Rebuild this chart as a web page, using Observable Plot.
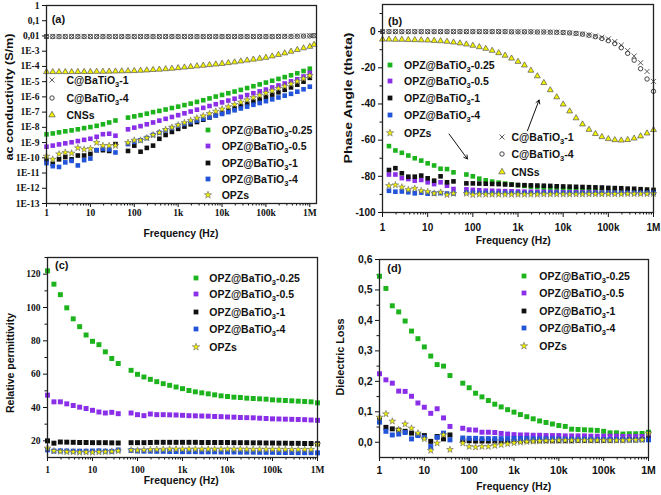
<!DOCTYPE html>
<html><head><meta charset="utf-8"><title>Dielectric properties</title>
<script src="https://cdn.jsdelivr.net/npm/d3@7"></script>
<script src="https://cdn.jsdelivr.net/npm/@observablehq/plot@0.6"></script>
<style>
html,body{margin:0;padding:0;background:#fff;}
#wrap{position:relative;width:661px;height:495px;overflow:hidden;background:#fff;}
#wrap svg.panel{position:absolute;}
.t{position:absolute;white-space:nowrap;font-family:"Liberation Sans",Arial,sans-serif;font-weight:bold;color:#111;line-height:1;}
.leg{font-size:10.5px;line-height:14px;height:14px;}
.leg sub{font-size:7.5px;vertical-align:-2.5px;line-height:0;}
.sym{position:absolute;width:12px;height:12px;}
.sym svg{display:block;}
</style></head><body><div id="wrap"></div>
<script>
// ---------- DATA ----------
const freqGap = [1,1.39,1.93,2.68,3.73,5.18,7.2,10,13.9,19.3,26.8,37.3,
  72,100,139,193,268,373,518,720,
  1000,1390,1930,2680,3730,5180,7200,
  1e4,13900,19300,26800,37300,51800,72000,
  1e5,139000,193000,268000,373000,518000,720000,1e6];
const freqFull = [1,1.39,1.93,2.68,3.73,5.18,7.2,10,13.9,19.3,26.8,37.3,51.8,
  72,100,139,193,268,373,518,720,
  1000,1390,1930,2680,3730,5180,7200,
  1e4,13900,19300,26800,37300,51800,72000,
  1e5,139000,193000,268000,373000,518000,720000,1e6];
const freqA = [1,1.39,1.93,2.68,3.73,5.18,7.2,10,13.9,19.3,26.8,37.3,51.8,
  72,100,139,193,268,373,518,720,
  1000,1390,1930,2680,3730,5180,7200,
  1e4,13900,19300,26800,37300,51800,72000,
  1e5,139000,193000,268000,373000,518000,720000,1e6,1.25e6];

const xTickValues = [1,10,100,1e3,1e4,1e5,1e6];
const xTickLabels = ["1","10","100","1k","10k","100k","1M"];
const aTickValues = [1,0.1,0.01,1e-3,1e-4,1e-5,1e-6,1e-7,1e-8,1e-9,1e-10,1e-11,1e-12,1e-13];
const aTickLabels = ["1","0,1","0,01","1E-3","1E-4","1E-5","1E-6","1E-7","1E-8","1E-9","1E-10","1E-11","1E-12","1E-13"];
const bTickValues = [0,-20,-40,-60,-80,-100];
const cTickValues = [20,40,60,80,100,120];
const dTickValues = [0,0.1,0.2,0.3,0.4,0.5,0.6];
const dTickLabels = ["0,0","0,1","0,2","0,3","0,4","0,5","0,6"];

const opzNames = ["OPZ@BaTiO3-0.25","OPZ@BaTiO3-0.5","OPZ@BaTiO3-1","OPZ@BaTiO3-4","OPZs"];
const cNames = ["C@BaTiO3-1","C@BaTiO3-4","CNSs"];

// (a) ac conductivity, log10(S/m)
const aG = [-8.46,-8.40,-8.33,-8.26,-8.20,-8.13,-8.05,-7.98,-7.90,-7.80,-7.68,-7.55,
  -7.36,-7.28,-7.20,-7.10,-7.00,-6.92,-6.83,-6.73,
  -6.64,-6.54,-6.44,-6.33,-6.22,-6.10,-5.98,
  -5.87,-5.76,-5.65,-5.54,-5.42,-5.30,-5.18,
  -5.06,-4.94,-4.82,-4.70,-4.58,-4.45,-4.30,-4.15];
const aP = [-9.27,-9.20,-9.12,-9.05,-8.98,-8.90,-8.82,-8.75,-8.62,-8.45,-8.42,-8.55,
  -8.13,-8.02,-7.92,-7.80,-7.68,-7.56,-7.44,-7.32,
  -7.20,-7.08,-6.96,-6.84,-6.72,-6.60,-6.48,
  -6.36,-6.24,-6.12,-6.00,-5.88,-5.76,-5.64,
  -5.52,-5.38,-5.25,-5.12,-4.98,-4.84,-4.66,-4.42];
const aK = [-10.15,-10.40,-10.10,-9.95,-10.10,-9.85,-9.85,-9.75,-9.50,-9.50,-9.55,-9.10,
  -9.55,-9.20,-9.60,-9.35,-9.20,-8.75,-8.50,-8.30,
  -8.10,-7.95,-7.80,-7.65,-7.50,-7.35,-7.20,
  -7.05,-6.90,-6.75,-6.60,-6.45,-6.30,-6.15,
  -6.00,-5.85,-5.70,-5.54,-5.38,-5.20,-5.00,-4.75];
const aB = [-10.35,-10.55,-10.60,-10.30,-10.20,-10.50,-10.15,-10.05,-9.50,-9.40,-9.45,-9.65,
  -9.10,-8.95,-8.85,-8.70,-8.50,-8.35,-8.20,-8.05,
  -7.90,-7.78,-7.66,-7.55,-7.44,-7.33,-7.22,
  -7.12,-7.00,-6.88,-6.76,-6.64,-6.52,-6.40,
  -6.28,-6.16,-6.04,-5.92,-5.80,-5.66,-5.50,-5.33];
const aS = [-9.90,-10.10,-9.75,-9.65,-9.70,-9.35,-9.45,-9.40,-9.00,-9.20,-9.20,-9.20,
  -9.00,-8.85,-8.85,-8.70,-8.50,-8.35,-8.15,-8.00,
  -7.85,-7.70,-7.55,-7.40,-7.25,-7.10,-6.95,
  -6.80,-6.65,-6.50,-6.35,-6.20,-6.05,-5.90,
  -5.75,-5.60,-5.45,-5.30,-5.15,-4.98,-4.80,-4.60];
const aC1 = [-2.03,-2.03,-2.03,-2.03,-2.03,-2.03,-2.03,-2.03,-2.03,-2.03,
  -2.03,-2.03,-2.03,-2.03,-2.03,-2.03,-2.03,-2.03,-2.03,-2.03,
  -2.03,-2.03,-2.03,-2.03,-2.03,-2.03,-2.03,-2.03,-2.03,-2.03,
  -2.03,-2.03,-2.03,-2.03,-2.03,-2.03,-2.03,-2.03,-2.02,-2.02,
  -2.01,-2.00,-1.99,-1.97];
const aC4 = [-2.04,-2.04,-2.04,-2.04,-2.04,-2.04,-2.04,-2.04,-2.04,-2.04,
  -2.04,-2.04,-2.04,-2.04,-2.04,-2.04,-2.04,-2.04,-2.04,-2.04,
  -2.04,-2.04,-2.04,-2.04,-2.04,-2.04,-2.04,-2.04,-2.04,-2.04,
  -2.04,-2.04,-2.04,-2.04,-2.04,-2.04,-2.04,-2.03,-2.03,-2.03,
  -2.02,-2.01,-2.00,-1.98];
const aCNS = [-4.36,-4.36,-4.36,-4.36,-4.36,-4.35,-4.35,-4.35,-4.34,-4.34,
  -4.33,-4.32,-4.31,-4.30,-4.29,-4.27,-4.25,-4.22,-4.20,-4.17,
  -4.14,-4.10,-4.06,-4.02,-3.98,-3.94,-3.90,-3.86,-3.82,-3.77,
  -3.72,-3.66,-3.60,-3.54,-3.48,-3.42,-3.33,-3.23,-3.13,-3.02,
  -2.91,-2.80,-2.70,-2.57];

// (b) phase angle (degrees)
const bG = [null,-63.3,-65.7,-67.0,-68.5,-70.0,-71.3,-72.8,-74.0,-75.8,-76.0,-77.8,
  -79.0,-80.0,-81.3,-82.2,-82.9,-83.5,-84.0,-84.5,
  -84.9,-85.3,-85.7,-86.0,-86.3,-86.6,-86.9,
  -87.1,-87.3,-87.5,-87.7,-87.9,-88.0,-88.1,
  -88.2,-88.3,-88.4,-88.5,-88.6,-88.6,-88.6,-88.6];
const bP = [null,-79.0,-79.0,-81.0,-81.5,-82.4,-82.0,-83.3,-84.3,-83.3,-85.2,-87.0,
  -87.2,-87.5,-87.7,-87.9,-88.0,-88.1,-88.2,-88.3,
  -88.4,-88.5,-88.5,-88.6,-88.6,-88.7,-88.7,
  -88.8,-88.8,-88.8,-88.9,-88.9,-88.9,-89.0,
  -89.0,-89.0,-89.0,-89.0,-89.0,-89.0,-89.0,-89.0];
const bK = [null,-76.5,-75.5,-78.3,-80.2,-80.2,-79.6,-81.1,-82.4,-80.0,-83.3,-82.8,
  -83.9,-83.9,-84.0,-84.1,-84.2,-84.3,-84.5,-84.6,
  -84.8,-84.9,-85.0,-85.1,-85.2,-85.3,-85.5,
  -85.6,-85.7,-85.8,-85.9,-86.0,-86.1,-86.2,
  -86.4,-86.5,-86.6,-86.8,-86.9,-87.1,-87.3,-87.5];
const bB = [null,-88.0,-88.5,-88.4,-88.8,-89.4,-89.0,-89.6,-89.5,-89.3,-89.5,-89.5,
  -89.0,-89.1,-89.2,-89.2,-89.3,-89.3,-89.3,-89.3,
  -89.3,-89.3,-89.3,-89.3,-89.3,-89.3,-89.3,
  -89.3,-89.3,-89.3,-89.3,-89.3,-89.3,-89.3,
  -89.3,-89.3,-89.3,-89.2,-89.2,-89.2,-89.2,-89.1];
const bS = [null,-85.2,-84.8,-86.0,-87.4,-86.7,-88.0,-88.5,-89.4,-88.9,-90.2,-89.5,
  -89.5,-90.2,-90.0,-90.0,-90.0,-90.0,-90.0,-90.0,
  -90.0,-90.0,-90.0,-90.0,-89.9,-89.9,-89.9,
  -89.9,-89.9,-89.9,-89.9,-89.8,-89.8,-89.8,
  -89.8,-89.8,-89.8,-89.7,-89.7,-89.7,-89.7,-89.6];
const bC1 = [0,0,0,0,0,0,0,0,0,0,0,0,0,0,0,0,0,0,0,0,
  -0.1,-0.1,-0.1,-0.1,-0.2,-0.2,-0.3,-0.3,
  -0.5,-0.7,-1.0,-1.3,-1.8,-2.4,-3.1,
  -4.0,-5.5,-7.5,-10.5,-13.5,-17.2,-22.0,-27.5];
const bC4 = [0,0,0,0,0,0,0,0,0,0,0,0,0,0,0,0,0,0,0,0,
  -0.1,-0.1,-0.1,-0.1,-0.2,-0.2,-0.3,-0.4,
  -0.5,-0.7,-1.0,-1.4,-2.0,-2.8,-3.8,
  -5.0,-6.6,-8.9,-12.0,-15.8,-20.5,-26.2,-33.0];
const bCNS = [-4.3,-4.3,-4.4,-4.4,-4.5,-4.6,-4.7,-4.8,-5.0,-5.2,
  -5.5,-5.9,-6.4,-7.0,-7.7,-8.5,-9.4,-10.5,-11.8,-13.2,
  -14.8,-16.6,-18.6,-21.5,-24.6,-28.3,-32.3,-36.2,-40.2,-44.0,
  -47.8,-51.2,-54.2,-56.5,-58.2,-59.3,-59.9,-60.1,-59.8,-59.0,
  -57.8,-56.2,-54.3];
const bArrows = [{f1:29.8,a1:-56.6,f2:76,a2:-70.4},{f1:1620,a1:-54.8,f2:2930,a2:-37.8}];

// (c) relative permittivity
const cG = [122.0,114.0,107.7,99.8,93.2,88.5,83.5,79.7,77.7,73.4,69.4,66.4,
  62.3,59.9,58.3,56.9,55.5,54.3,53.3,52.3,
  51.3,50.2,49.4,48.8,48.2,47.6,47.0,
  46.6,46.2,46.0,45.6,45.4,45.2,45.0,
  44.6,44.4,44.2,44.0,43.8,43.6,43.4,42.8];
const cP = [47.4,43.4,43.4,42.2,41.2,40.2,39.4,38.3,37.3,36.7,37.1,36.3,
  36.7,35.7,35.1,36.1,35.7,35.7,35.6,35.5,
  35.3,35.1,35.0,34.9,34.8,34.6,34.5,
  34.3,34.2,34.0,33.9,33.8,33.6,33.4,
  33.2,33.1,33.0,32.9,32.8,32.7,32.5,32.3];
const cK = [20.0,18.6,19.3,19.2,19.1,19.0,19.0,18.9,18.9,18.9,18.8,18.7,
  18.9,18.9,18.9,19.0,19.1,19.1,19.1,19.1,
  19.1,19.1,19.1,19.0,19.0,19.0,19.0,
  19.0,18.9,18.9,18.9,18.8,18.8,18.7,
  18.7,18.6,18.6,18.5,18.5,18.4,18.4,18.3];
const cB = [14.6,13.9,14.0,13.9,13.8,13.8,13.8,13.9,14.0,13.8,13.7,14.5,
  14.2,13.9,13.8,13.8,13.7,13.7,13.6,13.6,
  13.5,13.5,13.5,13.4,13.4,13.4,13.3,
  13.3,13.3,13.2,13.2,13.2,13.1,13.1,
  13.1,13.0,13.0,13.0,12.9,12.9,12.9,12.8];
const cS = [15.6,13.9,13.6,13.4,13.3,13.1,13.2,13.1,13.3,13.4,13.6,14.0,
  14.4,14.3,14.5,14.7,14.8,14.9,15.0,15.0,
  15.0,15.0,15.0,15.0,15.0,15.0,15.0,
  15.0,15.0,15.0,14.9,14.9,14.9,14.9,
  14.9,14.9,14.8,14.8,14.8,14.8,14.8,18.0];

// (d) dielectric loss
const dG = [0.545,0.505,0.448,0.428,0.398,0.365,0.340,0.313,0.283,0.255,0.250,0.219,
  0.194,0.179,0.161,0.149,0.137,0.125,0.116,0.107,
  0.099,0.091,0.084,0.077,0.070,0.065,0.060,
  0.055,0.052,0.043,0.042,0.041,0.040,0.039,
  0.036,0.031,0.031,0.027,0.028,0.028,0.029,0.033];
const dP = [0.225,0.205,0.194,0.168,0.167,0.151,0.129,0.115,0.095,0.110,0.080,0.052,
  0.046,0.041,0.040,0.033,0.033,0.032,0.029,0.027,
  0.025,0.024,0.024,0.023,0.023,0.022,0.022,
  0.022,0.021,0.021,0.021,0.021,0.020,0.020,
  0.020,0.020,0.020,0.019,0.019,0.019,0.019,0.019];
const dK = [0.073,0.049,0.044,0.040,0.036,0.030,0.025,0.022,0.003,0.019,0.011,0.024,
  0.005,0.005,0.004,0.004,0.004,0.004,0.004,0.004,
  0.004,0.004,0.005,0.005,0.005,0.005,0.005,
  0.005,0.005,0.005,0.006,0.006,0.006,0.006,
  0.006,0.006,0.007,0.007,0.008,0.008,0.009,0.011];
const dB = [0.066,0.036,0.024,0.027,0.032,0.011,0.022,0.016,-0.014,0.016,0.030,0.008,
  0.014,0.013,0.013,0.012,0.012,0.012,0.012,0.012,
  0.012,0.012,0.012,0.011,0.011,0.011,0.011,
  0.011,0.010,0.010,0.010,0.010,0.010,0.009,
  0.009,0.009,0.009,0.009,0.008,0.008,0.008,0.008];
const dS = [0.082,0.093,0.069,0.041,0.060,0.046,0.030,0.011,-0.027,-0.003,0.024,-0.024,
  -0.003,-0.014,-0.016,-0.014,-0.014,-0.011,-0.008,-0.005,
  -0.002,0.000,0.002,0.003,0.004,0.005,0.005,
  0.006,0.006,0.006,0.006,0.006,0.006,0.006,
  0.006,0.006,0.006,0.006,0.007,0.007,0.008,0.030];

// ---------- STYLES ----------
const GREEN = "#1db31d", PURPLE = "#8a2ee8", BLACK = "#111111", BLUE = "#2154d8", YELLOW = "#f2f200";
const sq = (c, r) => ({symbol: "square", r, fill: c, stroke: "none"});
const stTimes = {symbol: "times", r: 2.4, fill: "none", stroke: "#4a4a4a", strokeWidth: 0.9};
const stCircle = {symbol: "circle", r: 2.2, fill: "none", stroke: "#333", strokeWidth: 0.9};
const stTri = {symbol: "triangle", r: 2.2, fill: YELLOW, stroke: "#555", strokeWidth: 0.7};
const stStar = {symbol: "star", r: 2.1, fill: YELLOW, stroke: "#666", strokeWidth: 0.6};

const wrap = document.getElementById("wrap");
const xLab = new Map(xTickValues.map((v, i) => [v, xTickLabels[i]]));
const aLab = new Map(aTickValues.map((v, i) => [v, aTickLabels[i]]));
const dLab = new Map(dTickValues.map((v, i) => [v, dTickLabels[i]]));
const xMinor = [];
for (let e = 0; e < 6; e++) for (let m = 2; m <= 9; m++) xMinor.push(m * Math.pow(10, e));
const pow10 = v => Math.pow(10, v);
function pts(xs, ys, tf) {
  return xs.map((f, i) => ({f, v: ys[i] == null ? NaN : (tf ? tf(ys[i]) : ys[i])}));
}
function dot(xs, ys, st, tf) { return Plot.dot(pts(xs, ys, tf), {x: "f", y: "v", ...st}); }
function xAxes(ts, tp) {
  return [
    Plot.axisX({ticks: xTickValues, tickFormat: d => xLab.get(d), tickSize: ts, tickPadding: tp, label: null}),
    Plot.axisX({ticks: xMinor, tickFormat: () => "", tickSize: 2.5, label: null})
  ];
}
const frame = Plot.frame({stroke: "#222", strokeWidth: 1.3});
function style(font, size) {
  return {fontFamily: font, fontSize: size + "px", fontWeight: "bold", color: "#111", background: "transparent", overflow: "visible"};
}
function place(svg, left, top) {
  svg.classList.add("panel");
  svg.style.left = left + "px";
  svg.style.top = top + "px";
  wrap.appendChild(svg);
}
const SERIF = "'Liberation Serif','Times New Roman',serif";
const SANS = "'Liberation Sans',Arial,sans-serif";

// ---------- PANEL (a) ----------
place(Plot.plot({
  width: 330, height: 245, marginLeft: 46, marginRight: 14, marginTop: 5, marginBottom: 42,
  x: {type: "log", domain: [1, 1.42e6], axis: null},
  y: {type: "log", domain: [1e-13, 1], axis: null},
  style: style(SERIF, 9.5),
  marks: [
    ...xAxes(4, 2),
    Plot.axisY({ticks: aTickValues, tickFormat: d => aLab.get(d), tickSize: 4, tickPadding: 3, label: null}),
    dot(freqA, aC4, stCircle, pow10),
    dot(freqA, aC1, stTimes, pow10),
    dot(freqA, aCNS, stTri, pow10),
    dot(freqGap, aG, sq(GREEN, 2.6), pow10),
    dot(freqGap, aP, sq(PURPLE, 2.6), pow10),
    dot(freqGap, aK, sq(BLACK, 2.6), pow10),
    dot(freqGap, aB, sq(BLUE, 2.6), pow10),
    dot(freqGap, aS, stStar, pow10),
    frame
  ]
}), 0, 0);

// ---------- PANEL (b) ----------
place(Plot.plot({
  width: 331, height: 248, marginLeft: 52, marginRight: 8, marginTop: 4, marginBottom: 36,
  x: {type: "log", domain: [1, 1e6], axis: null},
  y: {domain: [-100, 15], axis: null},
  style: style(SANS, 10),
  marks: [
    ...xAxes(5, 6),
    Plot.axisY({ticks: bTickValues, tickFormat: d => String(d), tickSize: 4, tickPadding: 3, label: null}),
    Plot.axisY({ticks: [-90, -70, -50, -30, -10, 10], tickFormat: () => "", tickSize: 2.5, label: null}),
    dot(freqFull, bC1, stTimes),
    dot(freqFull, bC4, stCircle),
    dot(freqFull, bCNS, stTri),
    dot(freqGap, bG, sq(GREEN, 2.6)),
    dot(freqGap, bP, sq(PURPLE, 2.6)),
    dot(freqGap, bK, sq(BLACK, 2.6)),
    dot(freqGap, bB, sq(BLUE, 2.6)),
    dot(freqGap, bS, stStar),
    Plot.arrow(bArrows, {x1: "f1", y1: "a1", x2: "f2", y2: "a2", stroke: "#111", strokeWidth: 1, headLength: 6}),
    frame
  ]
}), 330, 0);

// ---------- PANEL (c) ----------
place(Plot.plot({
  width: 330, height: 255, marginLeft: 47, marginRight: 13, marginTop: 17, marginBottom: 38,
  x: {type: "log", domain: [1, 1e6], axis: null},
  y: {domain: [10, 130], axis: null},
  style: style(SERIF, 9.5),
  marks: [
    ...xAxes(4, 5),
    Plot.axisY({ticks: cTickValues, tickFormat: d => String(d), tickSize: 4, tickPadding: 3, label: null}),
    Plot.axisY({ticks: [30, 50, 70, 90, 110, 130], tickFormat: () => "", tickSize: 2.5, label: null}),
    dot(freqGap, cG, sq(GREEN, 2.8)),
    dot(freqGap, cP, sq(PURPLE, 2.8)),
    dot(freqGap, cK, sq(BLACK, 2.8)),
    dot(freqGap, cB, sq(BLUE, 2.8)),
    dot(freqGap, cS, stStar),
    frame
  ]
}), 0, 240);

// ---------- PANEL (d) ----------
place(Plot.plot({
  width: 331, height: 255, marginLeft: 49, marginRight: 13, marginTop: 19, marginBottom: 38,
  x: {type: "log", domain: [1, 1e6], axis: null},
  y: {domain: [-0.05, 0.6], axis: null},
  style: style(SANS, 10.5),
  marks: [
    ...xAxes(4, 5),
    Plot.axisY({ticks: dTickValues, tickFormat: d => dLab.get(d), tickSize: 4, tickPadding: 3, label: null}),
    Plot.axisY({ticks: [0.05, 0.15, 0.25, 0.35, 0.45, 0.55], tickFormat: () => "", tickSize: 2.5, label: null}),
    dot(freqGap, dG, sq(GREEN, 2.8)),
    dot(freqGap, dP, sq(PURPLE, 2.8)),
    dot(freqGap, dK, sq(BLACK, 2.8)),
    dot(freqGap, dB, sq(BLUE, 2.8)),
    dot(freqGap, dS, stStar),
    frame
  ]
}), 330, 240);

// ---------- LEGENDS & TITLES (HTML text) ----------
const symTypes = {square: d3.symbolSquare, times: d3.symbolTimes, circle: d3.symbolCircle, triangle: d3.symbolTriangle, star: d3.symbolStar};
function symSVG(st) {
  const d = d3.symbol(symTypes[st.symbol], Math.PI * st.r * st.r)();
  return `<svg width="12" height="12" viewBox="-6 -6 12 12"><path d="${d}" fill="${st.fill}" stroke="${st.stroke}" stroke-width="${st.strokeWidth || 0}"/></svg>`;
}
const richName = s => s.replace("TiO3", "TiO<sub>3</sub>");
function legend(names, styles, symX, textX, ys) {
  names.forEach((n, i) => {
    const s = document.createElement("div");
    s.className = "sym";
    s.style.left = (symX - 6) + "px";
    s.style.top = (ys[i] - 6) + "px";
    s.innerHTML = symSVG(styles[i]);
    wrap.appendChild(s);
    const t = document.createElement("div");
    t.className = "t leg";
    t.style.left = textX + "px";
    t.style.top = (ys[i] - 7) + "px";
    t.innerHTML = richName(n);
    wrap.appendChild(t);
  });
}
const opzStyles = [sq(GREEN, 2.7), sq(PURPLE, 2.7), sq(BLACK, 2.7), sq(BLUE, 2.7), {...stStar, r: 2.3}];
const cStyles = [stTimes, stCircle, {...stTri, r: 2.4}];

legend(cNames, cStyles, 52, 66.5, [80, 98, 115]);
legend(opzNames, opzStyles, 208.3, 221.7, [129.5, 146, 163, 179.3, 195]);
legend(opzNames, opzStyles, 390, 404, [65, 81, 97.7, 115, 132.7]);
legend(cNames, cStyles, 502.3, 511.5, [136.7, 154.3, 171.7]);
legend(opzNames, opzStyles, 195.7, 209.3, [277.7, 294.3, 311.7, 329.3, 346.7]);
legend(opzNames, opzStyles, 524.3, 539.3, [276, 293.3, 310.7, 328.3, 345.7]);

function title(text, cx, cy, fs, len) {
  const el = document.createElement("div");
  el.className = "t";
  el.style.fontSize = fs + "px";
  el.textContent = text;
  el.style.left = cx + "px";
  el.style.top = cy + "px";
  wrap.appendChild(el);
  let tr = "translate(-50%,-50%)";
  if (len) {
    const w = el.getBoundingClientRect().width;
    tr += ` rotate(-90deg) scaleX(${(len / w).toFixed(3)})`;
  }
  el.style.transform = tr;
}
title("Frequency (Hz)", 181, 234.3, 10.4);
title("Frequency (Hz)", 513.3, 240.5, 10.4);
title("Frequency (Hz)", 181.3, 480.7, 10.4);
title("Frequency (Hz)", 513.8, 487.3, 10.4);
title("ac conductivity (S/m)", 8.7, 96.7, 10.5, 127);
title("Phase Angle (theta)", 348.3, 98.3, 10.5, 131);
title("Relative permittivity", 10, 363, 10.5, 100);
title("Dielectric Loss", 340, 356.7, 10.5, 77);

function tag(text, left, cy) {
  const el = document.createElement("div");
  el.className = "t";
  el.style.fontSize = "11px";
  el.style.left = left + "px";
  el.style.top = (cy - 6) + "px";
  el.textContent = text;
  wrap.appendChild(el);
}
tag("(a)", 51.7, 20);
tag("(b)", 388, 21.7);
tag("(c)", 55, 266);
tag("(d)", 387.3, 269.3);
</script></body></html>
